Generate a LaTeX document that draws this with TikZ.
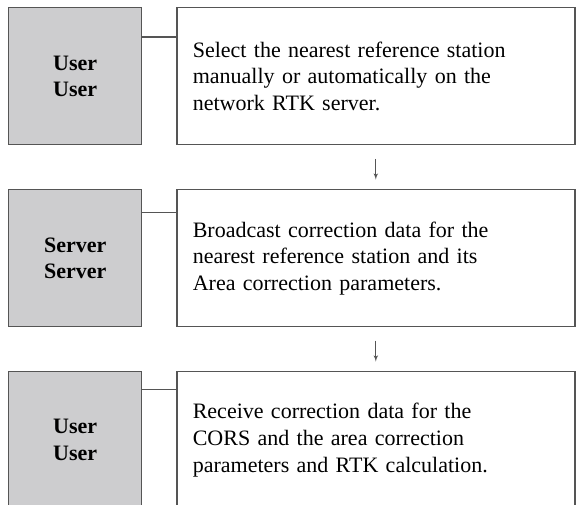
\documentclass[tikz,border=0pt]{standalone}
\usepackage{fontspec}
\setmainfont{Liberation Serif}
\usepackage{tikz}
\usetikzlibrary{arrows, positioning}

\definecolor{boxgray}{RGB}{205,205,207}
\definecolor{edgegray}{RGB}{85,85,85}

\begin{document}
\begin{tikzpicture}[node distance=32.6pt and 25.2pt,
        role/.style={rectangle, draw=edgegray, line width=1.1pt, fill=boxgray, minimum width=99.75pt, minimum height=102.75pt, align=center, font=\fontsize{16.5}{19.9}\selectfont\bfseries},
        block/.style={rectangle, draw=edgegray, line width=1.1pt, fill=white, text width=274.5pt, inner xsep=12pt, minimum height=102.75pt, align=left, font=\fontsize{16.5}{19.9}\selectfont},
        link/.style={draw, edgegray, line width=0.8pt},
        line/.style={draw, -latex', edgegray, line width=0.6pt, shorten <=10pt, shorten >=7pt}]

    \clip (0,0) rectangle (432.75pt,-378.75pt);

    \node [role, anchor=north west] (user1) at (6pt,-5.25pt) {User\\User};
    \node [block, right=of user1] (sel) {Select the nearest reference station\\manually or automatically on the\\network RTK server.};

    \node [role, below=of user1] (server) {Server\\Server};
    \node [block, right=of server] (bcast) {Broadcast correction data for the\\nearest reference station and its\\Area correction parameters.};

    \node [role, below=of server] (user2) {User\\User};
    \node [block, right=of user2] (recv) {Receive correction data for the\\CORS and the area correction\\parameters and RTK calculation.};

    % who does what
    \path [link] ([yshift=-22.5pt]user1.north east) -- ([yshift=-22.5pt]sel.north west);
    \path [link] ([yshift=-18pt]server.north east) -- ([yshift=-18pt]bcast.north west);
    \path [link] ([yshift=-14.25pt]user2.north east) -- ([yshift=-14.25pt]recv.north west);

    \path [line] (sel) -- (bcast);
    \path [line] (bcast) -- (recv);
\end{tikzpicture}
\end{document}
